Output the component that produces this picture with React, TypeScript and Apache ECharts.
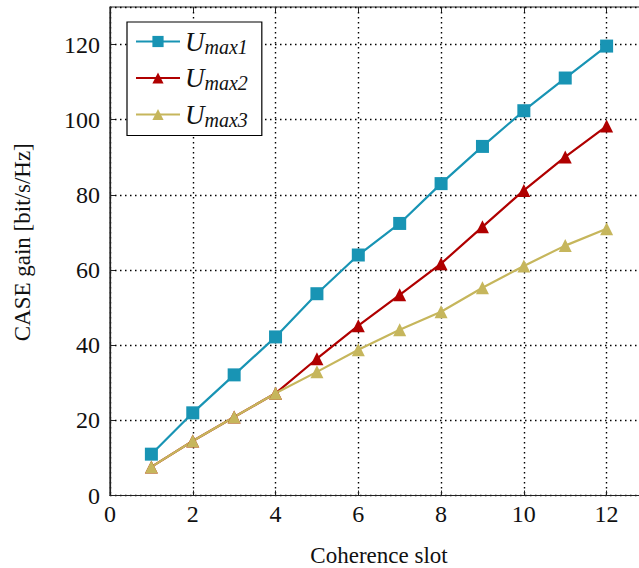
import React, { useEffect, useRef } from "react";
import * as echarts from "echarts";

const slots = [1, 2, 3, 4, 5, 6, 7, 8, 9, 10, 11, 12];
const umax1 = [11, 22, 32.1, 42.2, 53.7, 64, 72.4, 83, 92.9, 102.4, 111.1, 119.6];
const umax2 = [7.6, 14.5, 20.9, 27.2, 36.4, 45.2, 53.4, 61.7, 71.5, 81.2, 90.1, 98.3];
const umax3 = [7.6, 14.5, 20.9, 27.2, 32.9, 38.8, 44.1, 48.9, 55.3, 61.1, 66.5, 71.0];
const seriesNames = ["Umax1", "Umax2", "Umax3"];
const seriesLabels: Record<string, string> = {
  Umax1: "{u|U}{s|max1}",
  Umax2: "{u|U}{s|max2}",
  Umax3: "{u|U}{s|max3}",
};
const colors = ["#1894b4", "#b00000", "#c6b65c"];
const FONT = "'Liberation Serif', serif";

export default function App() {
  const ref = useRef<HTMLDivElement>(null);
  useEffect(() => {
    if (!ref.current) return;
    const chart = echarts.init(ref.current, undefined, { renderer: "svg" });
    const pair = (ys: number[]) => slots.map((x, i) => [x, ys[i]]);
    const dotted = { color: "#000", width: 1.4, type: [1.5, 3.5] as any };
    chart.setOption({
      animation: false,
      backgroundColor: "#fff",
      color: colors,
      grid: {
        left: 110, top: 7, bottom: 72.5, right: -9,
        outerBoundsMode: "none", containLabel: false,
        show: true, borderColor: "#222", borderWidth: 1.2, backgroundColor: "transparent",
      },
      legend: {
        orient: "vertical",
        left: 127,
        top: 22,
        backgroundColor: "#fff",
        borderColor: "#000",
        borderWidth: 1.2,
        padding: [6, 14, 6, 8],
        itemWidth: 44,
        itemHeight: 14,
        itemGap: 8,
        data: seriesNames,
        formatter: (n: string) => seriesLabels[n],
        textStyle: {
          fontFamily: FONT,
          color: "#111",
          rich: {
            u: { fontFamily: FONT, fontStyle: "italic", fontSize: 27, lineHeight: 30, color: "#111" },
            s: { fontFamily: FONT, fontStyle: "italic", fontSize: 20, lineHeight: 12, verticalAlign: "bottom", color: "#111" },
          },
        },
      },
      xAxis: [
        {
          type: "value",
          min: 0,
          max: 13,
          interval: 2,
          name: "Coherence slot",
          nameLocation: "middle",
          nameGap: 48,
          nameTextStyle: { fontFamily: FONT, fontSize: 23, lineHeight: 23, color: "#111" },
          axisLine: { show: true, lineStyle: { color: "#222", width: 1.2 } },
          axisTick: { show: true, inside: true, length: 5, lineStyle: { color: "#222" } },
          axisLabel: { fontFamily: FONT, fontSize: 24, color: "#111", margin: 6, showMaxLabel: false },
          splitLine: { show: true, lineStyle: dotted },
        },
        {
          type: "value",
          position: "top",
          min: 0,
          max: 13,
          interval: 2,
          axisLine: { show: false },
          axisTick: { show: true, inside: true, length: 5, lineStyle: { color: "#222" } },
          axisLabel: { show: false },
          splitLine: { show: false },
        },
      ],
      yAxis: {
        type: "value",
        min: 0,
        max: 130,
        interval: 20,
        name: "CASE gain [bit/s/Hz]",
        nameLocation: "middle",
        nameGap: 76,
        nameTextStyle: { fontFamily: FONT, fontSize: 23, color: "#111", padding: [0, 0, 0, 18] },
        axisLine: { show: true, lineStyle: { color: "#222", width: 1.2 } },
        axisTick: { show: true, inside: true, length: 5, lineStyle: { color: "#222" } },
        axisLabel: { fontFamily: FONT, fontSize: 24, color: "#111", margin: 10, showMaxLabel: false },
        splitLine: { show: true, lineStyle: dotted },
      },
      series: [
        { name: "Umax1", type: "line", data: pair(umax1), symbol: "rect", symbolSize: 13, lineStyle: { width: 2.2 }, itemStyle: { color: colors[0] } },
        { name: "Umax2", type: "line", data: pair(umax2), symbol: "triangle", symbolSize: 13, lineStyle: { width: 2.2 }, itemStyle: { color: colors[1] } },
        { name: "Umax3", type: "line", data: pair(umax3), symbol: "triangle", symbolSize: 13, lineStyle: { width: 2.2 }, itemStyle: { color: colors[2] } },
      ],
    });
    return () => chart.dispose();
  }, []);
  return <div ref={ref} style={{ position: "absolute", left: 0, top: 0, width: 639, height: 568 }} />;
}
